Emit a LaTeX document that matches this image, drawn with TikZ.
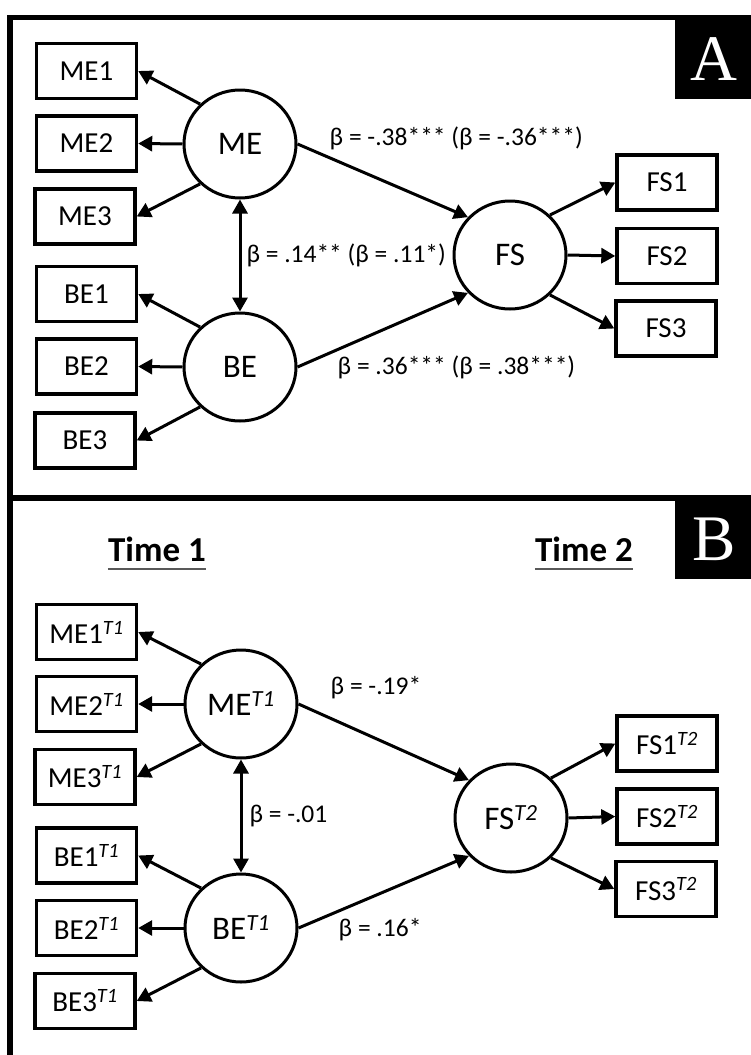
\documentclass[tikz,border=0pt]{standalone}
\usepackage{fontspec}
\setmainfont{Carlito}
\newfontfamily\tagfont{Liberation Serif}
\usepackage{tikz}
\usetikzlibrary{arrows.meta, shapes.geometric, calc}

\newcommand{\tsup}[1]{\textsuperscript{\textit{#1}}}

\tikzset{
  ind/.style={draw, line width=3.4pt, minimum width=100pt, minimum height=55pt, inner sep=0pt, font=\fontsize{29}{31}\selectfont},
  lat/.style={draw, ellipse, line width=3pt, minimum width=112pt, minimum height=108pt, inner sep=0pt, font=\fontsize{33}{35}\selectfont},
  arr/.style={line width=3pt, -{Triangle[length=14pt, width=15pt]}},
  cov/.style={line width=3pt, {Triangle[length=14pt, width=15pt]}-{Triangle[length=14pt, width=15pt]}},
  coef/.style={font=\fontsize{25.5}{27}\selectfont, inner sep=0pt},
  tag/.style={fill=black, text=white, minimum width=78pt, minimum height=79pt, inner sep=0pt, font=\tagfont\fontsize{65}{65}\selectfont},
  timelbl/.style={font=\bfseries\fontsize{35}{37}\selectfont, anchor=base, inner sep=0pt},
  frame/.style={line width=5.4pt}
}

\begin{document}
\begin{tikzpicture}[x=1pt, y=-1pt]
    \clip (0,0) rectangle (751,1055);
    \fill[white] (0,0) rectangle (751,1055);

    \draw[frame] (10,1100) -- (10,17.5) -- (800,17.5);
    \draw[frame] (10,498) -- (800,498);

    \node[tag] (tagA) at (714,59.5) {A};
    \node[tag] (tagB) at (714,539.5) {B};

    % panel A
    \node[ind] (me1) at (86.5,71) {ME1};
    \node[ind] (me2) at (86.5,143.5) {ME2};
    \node[ind] (me3) at (85,216.5) {ME3};
    \node[ind] (be1) at (86.5,294) {BE1};
    \node[ind] (be2) at (86.5,366.5) {BE2};
    \node[ind] (be3) at (85,440.5) {BE3};

    \node[lat] (me) at (240,144) {ME};
    \node[lat] (be) at (240,367) {BE};
    \node[lat] (fs) at (510,255) {FS};

    \node[ind] (fs1) at (667,182.5) {FS1};
    \node[ind] (fs2) at (667,256) {FS2};
    \node[ind] (fs3) at (666,328.5) {FS3};

    \draw[arr] (me.135) -- (me1.east);
    \draw[arr] (me.west) -- (me2.east);
    \draw[arr] (me.225) -- (me3.east);
    \draw[arr] (be.135) -- (be1.east);
    \draw[arr] (be.west) -- (be2.east);
    \draw[arr] (be.225) -- (be3.east);

    \draw[arr] (fs.45) -- (fs1.west);
    \draw[arr] (fs.east) -- (fs2.west);
    \draw[arr] (fs.-45) -- (fs3.west);

    \draw[arr] (me.east) -- (fs.138);
    \draw[arr] (be.east) -- (fs.222);
    \draw[cov] (me.south) -- node[coef, right=5pt] (cAc) {β = .14** (β = .11*)} (be.north);

    \node[coef, anchor=west] (cAm) at ($(me.east)+(32,-6)$) {β = -.38*** (β = -.36***)};
    \node[coef, anchor=west] (cAb) at ($(be.east)+(40,0)$) {β = .36*** (β = .38***)};

    % panel B
    \node[timelbl] (t1) at (157,561) {Time 1};
    \node[timelbl] (t2) at (584,561) {Time 2};
    \draw[black!65, line width=1.8pt] ($(t1.base west)+(0,8)$) -- ($(t1.base east)+(0,8)$);
    \draw[black!65, line width=1.8pt] ($(t2.base west)+(0,8)$) -- ($(t2.base east)+(0,8)$);

    \node[ind] (me1b) at (86.5,632) {ME1\tsup{T1}};
    \node[ind] (me2b) at (86.5,704) {ME2\tsup{T1}};
    \node[ind] (me3b) at (85,777) {ME3\tsup{T1}};
    \node[ind] (be1b) at (86.5,855.5) {BE1\tsup{T1}};
    \node[ind] (be2b) at (86.5,928) {BE2\tsup{T1}};
    \node[ind] (be3b) at (85,1001) {BE3\tsup{T1}};

    \node[lat] (meb) at (241,704) {ME\tsup{T1}};
    \node[lat] (beb) at (241,928) {BE\tsup{T1}};
    \node[lat] (fsb) at (511,818) {FS\tsup{T2}};

    \node[ind] (fs1b) at (667,743.5) {FS1\tsup{T2}};
    \node[ind] (fs2b) at (667,816.5) {FS2\tsup{T2}};
    \node[ind] (fs3b) at (666,889) {FS3\tsup{T2}};

    \draw[arr] (meb.135) -- (me1b.east);
    \draw[arr] (meb.west) -- (me2b.east);
    \draw[arr] (meb.225) -- (me3b.east);
    \draw[arr] (beb.135) -- (be1b.east);
    \draw[arr] (beb.west) -- (be2b.east);
    \draw[arr] (beb.225) -- (be3b.east);

    \draw[arr] (fsb.45) -- (fs1b.west);
    \draw[arr] (fsb.east) -- (fs2b.west);
    \draw[arr] (fsb.-45) -- (fs3b.west);

    \draw[arr] (meb.east) -- (fsb.138);
    \draw[arr] (beb.east) -- (fsb.222);
    \draw[cov] (meb.south) -- node[coef, right=7pt] (cBc) {β = -.01} (beb.north);

    \node[coef, anchor=west] (cBm) at ($(meb.east)+(32,-16)$) {β = -.19*};
    \node[coef, anchor=west] (cBb) at ($(beb.east)+(40,2)$) {β = .16*};
\end{tikzpicture}
\end{document}
